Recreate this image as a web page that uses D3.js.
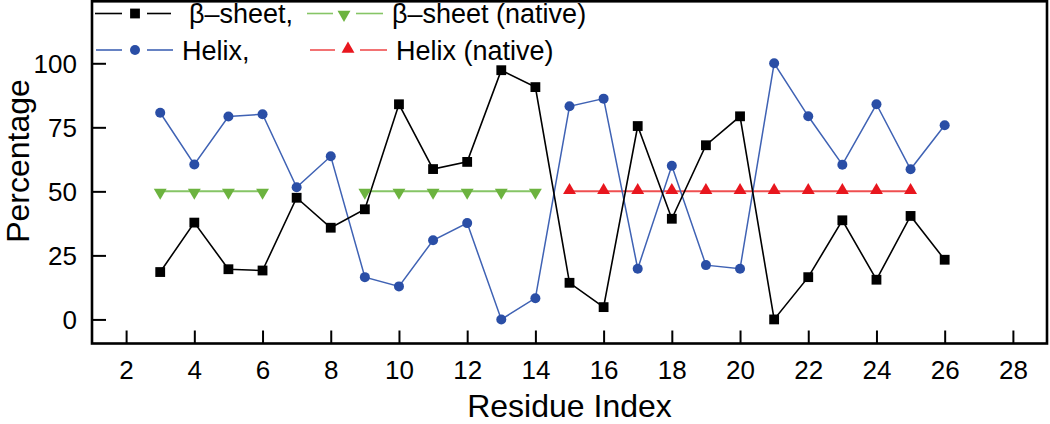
<!DOCTYPE html>
<html>
<head>
<meta charset="utf-8">
<script src="https://cdn.jsdelivr.net/npm/d3@7"></script>
<style>
  html, body { margin: 0; padding: 0; background: #fff; }
  svg { display: block; font-family: "Liberation Sans", Arial, sans-serif; }
</style>
</head>
<body>
<svg id="chart" width="1050" height="424"></svg>
<script>
const residues = [3,4,5,6,7,8,9,10,11,12,13,14,15,16,17,18,19,20,21,22,23,24,25,26];
const sheetValues = [18.5,37.8,19.6,19.1,47.5,35.8,43,84,58.7,61.5,97.3,90.7,14.3,4.8,75.5,39.3,68,79.3,0,16.5,38.7,15.5,40.4,23.3];
const helixValues = [80.7,60.5,79.2,80.1,51.6,63.7,16.5,12.9,30.9,37.6,0,8.3,83.2,86.2,19.8,60,21.2,19.8,100,79.3,60.4,84,58.6,75.8];
const sheetNativeSegments = [[3,4,5,6],[9,10,11,12,13,14]];
const sheetNativeValue = 50;
const helixNativeResidues = [15,16,17,18,19,20,21,22,23,24,25];
const helixNativeValue = 50;
const xTicks = [2,4,6,8,10,12,14,16,18,20,22,24,26,28];
const yTicks = [0,25,50,75,100];

const svg = d3.select("#chart");
const L = 92, R = 1047, T = 1.3, B = 343.5;
const x = d3.scaleLinear().domain([1, 29]).range([L, R]);
const y = d3.scaleLinear().domain([-9.4, 124.2]).range([B, T]);

const C = {
  sheet: "#000000", sheetLine: "#000000",
  helix: "#2a4ea6", helixLine: "#3f62b4",
  gNat: "#6cb33f", gNatLine: "#86c566",
  rNat: "#e8161e", rNatLine: "#ef4f50"
};

const line = d3.line().x(d => x(d[0])).y(d => y(d[1]));

const sheetPts = residues.map((r,i) => [r, sheetValues[i]]);
const helixPts = residues.map((r,i) => [r, helixValues[i]]);

sheetNativeSegments.forEach(seg => {
  svg.append("path").attr("d", line(seg.map(r => [r, sheetNativeValue])))
    .attr("fill","none").attr("stroke", C.gNatLine).attr("stroke-width", 2);
});
svg.append("path").attr("d", line(helixNativeResidues.map(r => [r, helixNativeValue])))
  .attr("fill","none").attr("stroke", C.rNatLine).attr("stroke-width", 2);

svg.append("path").attr("d", line(helixPts)).attr("fill","none")
  .attr("stroke", C.helixLine).attr("stroke-width", 1.5);
svg.append("path").attr("d", line(sheetPts)).attr("fill","none")
  .attr("stroke", C.sheetLine).attr("stroke-width", 1.6);

const triSym = d3.symbol().type(d3.symbolTriangle).size(72);
function drawTri(g, cx, cy, color, down) {
  g.append("path").attr("d", triSym())
    .attr("transform", `translate(${cx},${cy + (down ? 1 : -1)}) rotate(${down ? 180 : 0})`)
    .attr("fill", color);
}
sheetNativeSegments.flat().forEach(r => drawTri(svg, x(r), y(sheetNativeValue), C.gNat, true));
helixNativeResidues.forEach(r => drawTri(svg, x(r), y(helixNativeValue), C.rNat, false));

helixPts.forEach(p => svg.append("circle").attr("cx", x(p[0])).attr("cy", y(p[1]))
  .attr("r", 5).attr("fill", C.helix));
sheetPts.forEach(p => svg.append("rect").attr("x", x(p[0]) - 4.9).attr("y", y(p[1]) - 4.9)
  .attr("width", 9.8).attr("height", 9.8).attr("fill", C.sheet));

// axes
const xAxis = d3.axisBottom(x).tickValues(xTicks).tickSize(-13).tickPadding(20).tickFormat(d3.format("d"));
const gx = svg.append("g").attr("transform", `translate(0,${B})`).call(xAxis);
gx.select(".domain").remove();
gx.selectAll(".tick line").attr("stroke", "#000").attr("stroke-width", 2);
gx.selectAll(".tick text").attr("font-size", 26).attr("fill", "#000")
  .attr("font-family", "'Liberation Sans', Arial, sans-serif").attr("dy", "0.71em").attr("y", 17);

const yAxis = d3.axisLeft(y).tickValues(yTicks).tickSize(-14).tickPadding(15);
const gy = svg.append("g").attr("transform", `translate(${L},0)`).call(yAxis);
gy.select(".domain").remove();
gy.selectAll(".tick line").attr("stroke", "#000").attr("stroke-width", 2);
gy.selectAll(".tick text").attr("font-size", 26).attr("fill", "#000")
  .attr("font-family", "'Liberation Sans', Arial, sans-serif").attr("x", -15).attr("dy", "0.36em");

// frame
svg.append("rect").attr("x", L).attr("y", T).attr("width", R - L).attr("height", B - T)
  .attr("fill", "none").attr("stroke", "#000").attr("stroke-width", 2.6);

// axis titles
svg.append("text").attr("x", (L + R) / 2).attr("y", 417).attr("text-anchor", "middle")
  .attr("font-size", 32).attr("fill", "#000").text("Residue Index");
svg.append("text").attr("transform", "translate(29,161) rotate(-90)").attr("text-anchor", "middle")
  .attr("font-size", 32).attr("fill", "#000").text("Percentage");

// legend
const legend = svg.append("g");
function legendItem(x0, x1, mx, x2, x3, ly, color, lineColor, marker, label, tx) {
  legend.append("line").attr("x1", x0).attr("x2", x1).attr("y1", ly).attr("y2", ly)
    .attr("stroke", lineColor).attr("stroke-width", 1.6);
  legend.append("line").attr("x1", x2).attr("x2", x3).attr("y1", ly).attr("y2", ly)
    .attr("stroke", lineColor).attr("stroke-width", 1.6);
  if (marker === "square") {
    legend.append("rect").attr("x", mx - 4.9).attr("y", ly - 4.9).attr("width", 9.8).attr("height", 9.8).attr("fill", color);
  } else if (marker === "circle") {
    legend.append("circle").attr("cx", mx).attr("cy", ly).attr("r", 5).attr("fill", color);
  } else if (marker === "down") {
    drawTri(legend, mx, ly, color, true);
  } else {
    drawTri(legend, mx, ly, color, false);
  }
  legend.append("text").attr("x", tx).attr("y", ly).attr("dy", "0.36em")
    .attr("font-size", 27).attr("fill", "#000").text(label);
}
legendItem(95, 122, 135, 147, 171, 13.5, C.sheet, C.sheetLine, "square", "β–sheet,", 189);
legendItem(307, 333, 344, 356, 383, 13.5, C.gNat, C.gNatLine, "down", "β–sheet (native)", 392);
legendItem(96, 122, 135, 147, 173, 50, C.helix, C.helixLine, "circle", "Helix,", 182);
legendItem(310, 335, 348, 360, 387, 50, C.rNat, C.rNatLine, "up", "Helix (native)", 396);
</script>
</body>
</html>
